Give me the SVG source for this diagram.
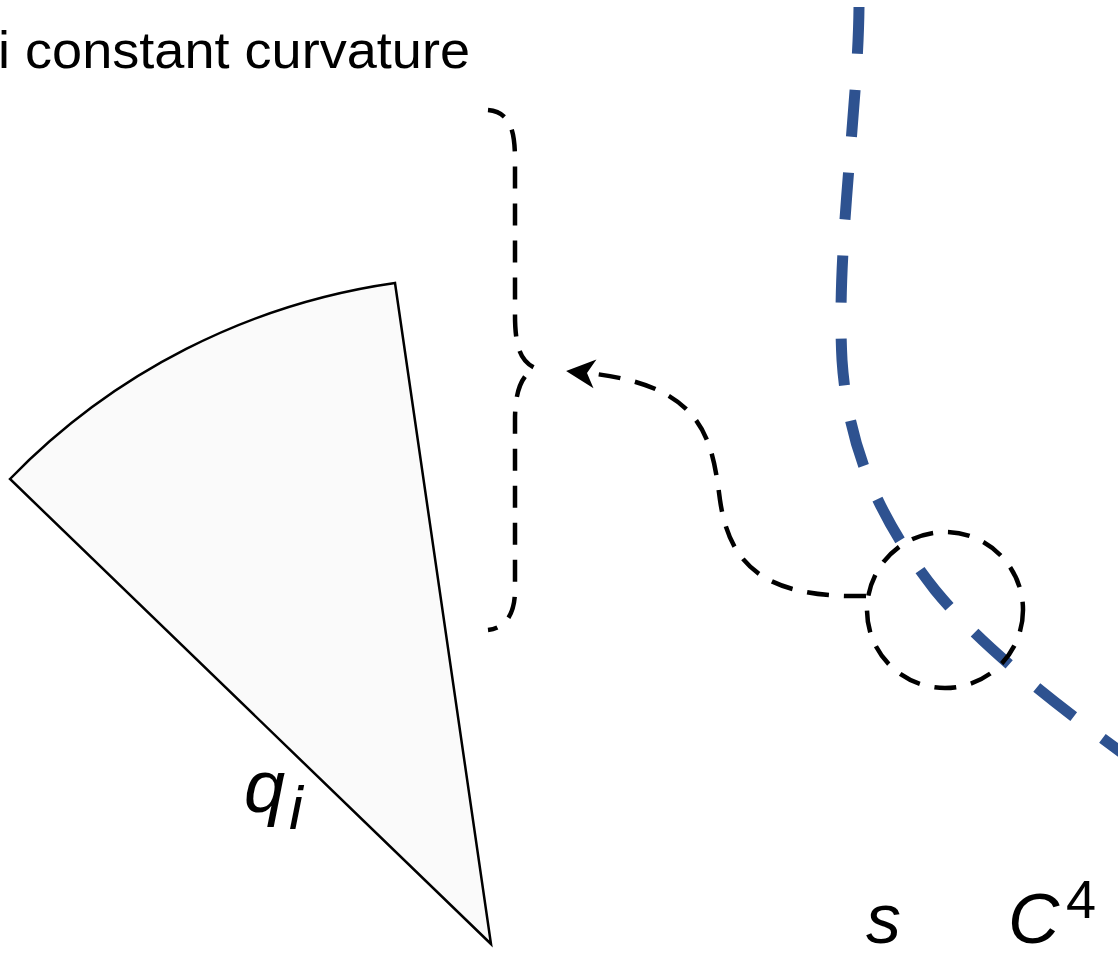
<svg xmlns="http://www.w3.org/2000/svg" width="1118" height="960" viewBox="0 0 1118 960">
<defs>
<style>
.lbl{font-family:"Liberation Sans",Arial,sans-serif;fill:#000}
.it{font-style:italic}
.dash{fill:none;stroke:#000;stroke-width:4.5;stroke-dasharray:22 15}
</style>
<marker id="arr" markerUnits="userSpaceOnUse" markerWidth="40" markerHeight="40" viewBox="-5 -20 40 40" refX="8" refY="0" orient="auto" overflow="visible">
<path d="M 29 0 L 0 -14.5 L 8 0 L 0 14.5 Z" fill="#000"/>
</marker>
</defs>
<rect width="1118" height="960" fill="#fff"/>
<text class="lbl" x="-2" y="68" font-size="52" textLength="472" lengthAdjust="spacingAndGlyphs">i constant curvature</text>
<g id="sector">
<path d="M 491 944 L 10 479 A 667 667 0 0 1 395 283 Z" fill="#fafafa" stroke="#000" stroke-width="2.5" stroke-linejoin="miter"/>
<text class="lbl it" x="244" y="812" font-size="74">q</text>
<text class="lbl it" x="289" y="829" font-size="62">i</text>
</g>
<g id="brace">
<path class="dash" stroke-dashoffset="4" d="M 488 110 C 510 112, 515 130, 515 160 L 515 315 C 515 350, 522 362, 535 368 C 522 375, 515 390, 515 420 L 515 590 C 515 615, 505 628, 488 630"/>
</g>
<g id="curve-C4">
<path d="M 859 7 C 858 110, 836 250, 842 360 C 848 450, 880 520, 935 590 C 980 645, 1050 700, 1125 755" fill="none" stroke="#2E5290" stroke-width="11" stroke-dasharray="47 36"/>
<text class="lbl it" x="866" y="943" font-size="70">s</text>
<text class="lbl it" x="1008" y="943" font-size="71">C</text>
<text class="lbl" x="1066" y="918" font-size="54">4</text>
</g>
<g id="neighborhood">
<circle cx="945" cy="610" r="78" class="dash"/>
</g>
<g id="connectors">
<path class="dash" d="M 866 596 C 770 598, 730 570, 720 500 C 712 440, 705 385, 587 373" marker-end="url(#arr)"/>
</g>
</svg>
